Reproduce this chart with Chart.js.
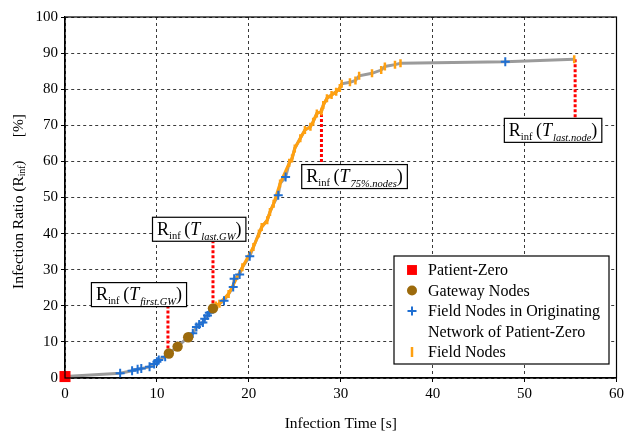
<!DOCTYPE html>
<html>
<head>
<meta charset="utf-8">
<script src="https://cdn.jsdelivr.net/npm/chart.js@4/dist/chart.umd.min.js"></script>
<style>
  html, body { margin: 0; padding: 0; background: #fff; }
  #chart { display: block; }
</style>
</head>
<body>
<canvas id="chart" width="627" height="433"></canvas>
<script>
"use strict";

// infection time [s] / infection ratio [%]
const patientZeroT = [0];
const patientZeroR = [0.4];

const gatewayT = [11.3, 12.25, 13.4, 16.1];
const gatewayR = [6.8, 8.7, 11.3, 19.3];

const originT = [6.0, 7.3, 7.9, 8.3, 9.2, 9.7, 10.0, 10.2, 10.9, 13.9, 14.3, 14.6,
  15.0, 15.2, 15.5, 15.7, 17.3, 18.3, 18.4, 19.0, 20.1, 23.2, 24.0, 47.9];
const originR = [1.3, 2.0, 2.4, 2.6, 3.1, 3.9, 4.5, 5.0, 5.9, 12.4, 14.1, 14.8,
  15.4, 16.4, 17.3, 18.1, 21.4, 25.2, 27.5, 28.7, 33.7, 50.6, 55.7, 87.6];

const fieldT = [16.4, 16.8, 17.8, 19.3, 20.5, 21.1, 21.4, 22.0, 22.3, 22.7, 23.4, 24.4,
  24.7, 25.0, 25.6, 26.1, 26.7, 27.0, 27.4, 27.9, 28.1, 28.5, 29.0, 29.5, 29.9,
  30.1, 31.0, 31.6, 32.0, 33.4, 34.4, 34.8, 35.9, 36.5, 55.4];
const fieldR = [20.1, 20.6, 23.3, 30.7, 36.3, 40.0, 41.8, 43.7, 46.0, 48.3, 53.9, 59.6,
  60.8, 63.6, 66.4, 68.7, 69.6, 71.0, 73.3, 73.8, 75.6, 77.5, 78.4, 79.3, 80.3,
  81.5, 81.9, 82.4, 83.7, 84.4, 85.3, 86.3, 86.8, 87.2, 88.3];

// marked instants: time, ratio on the curve, end of the dotted line
const markSub = ["first.GW", "last.GW", "75%.nodes", "last.node"];
const markT = [11.2, 16.1, 27.9, 55.5];
const markFrom = [6.8, 19.3, 74.5, 88.3];
const markTo = [19.8, 37.9, 58.5, 71.9];

const xTicks = [0, 10, 20, 30, 40, 50, 60];
const yTicks = [0, 10, 20, 30, 40, 50, 60, 70, 80, 90, 100];

// label box centres, in axis units
const BOX_AT = [[8.05, 23.1], [14.6, 41.2], [31.5, 55.8], [53.1, 68.6]];

const SERIF = '"Liberation Serif", "DejaVu Serif", serif';
const C = {
  red: "#ff0000",
  gateway: "#9c6a0c",
  blue: "#1f6fd2",
  orange: "#ffa010",
  curve: "#9b9b9b",
  grid: "#3a3a3a",
};

const pts = (xs, ys) => xs.map((x, i) => ({ x, y: ys[i] }));

const curve = pts(patientZeroT, patientZeroR)
  .concat(pts(gatewayT, gatewayR), pts(originT, originR), pts(fieldT, fieldR))
  .sort((a, b) => a.x - b.x);

const legendItems = [
  { lines: ["Patient-Zero"], ds: 0 },
  { lines: ["Gateway Nodes"], ds: 1 },
  { lines: ["Field Nodes in Originating", "Network of Patient-Zero"], ds: 2 },
  { lines: ["Field Nodes"], ds: 3 },
];

function drawRinf(ctx, cx, cy, sub) {
  const parts = [
    { t: "R", f: `18px ${SERIF}`, dy: 0 },
    { t: "inf", f: `10.5px ${SERIF}`, dy: 4 },
    { t: "\u2009(", f: `18px ${SERIF}`, dy: 0 },
    { t: "T", f: `italic 18px ${SERIF}`, dy: 0 },
    { t: sub, f: `italic 10.5px ${SERIF}`, dy: 5 },
    { t: ")", f: `18px ${SERIF}`, dy: 0 },
  ];
  let w = 0;
  parts.forEach((p) => {
    ctx.font = p.f;
    p.w = ctx.measureText(p.t).width + (p.t === "T" ? 1 : 0);
    w += p.w;
  });
  const bw = w + 9, bh = 24;
  ctx.fillStyle = "#fff";
  ctx.fillRect(cx - bw / 2, cy - bh / 2, bw, bh);
  ctx.strokeStyle = "#000";
  ctx.lineWidth = 1.2;
  ctx.setLineDash([]);
  ctx.strokeRect(cx - bw / 2, cy - bh / 2, bw, bh);
  let x = cx - w / 2;
  ctx.fillStyle = "#000";
  ctx.textAlign = "left";
  ctx.textBaseline = "alphabetic";
  parts.forEach((p) => {
    ctx.font = p.f;
    ctx.fillText(p.t, x, cy + 5.5 + p.dy);
    x += p.w;
  });
}

const decorations = {
  id: "decorations",
  afterDatasetsDraw(chart) {
    const { ctx, scales } = chart;
    ctx.save();
    BOX_AT.forEach((b, i) => {
      drawRinf(ctx, scales.x.getPixelForValue(b[0]), scales.y.getPixelForValue(b[1]), markSub[i]);
    });
    ctx.restore();
  },
  afterDraw(chart) {
    const { ctx, chartArea: a } = chart;
    ctx.save();
    // frame
    ctx.strokeStyle = "#000";
    ctx.lineWidth = 1.2;
    ctx.setLineDash([]);
    ctx.strokeRect(a.left, a.top, a.right - a.left, a.bottom - a.top);

    // y axis title with subscript
    ctx.translate(19, (a.top + a.bottom) / 2 + 4);
    ctx.rotate(-Math.PI / 2);
    const segs = [
      { t: "Infection Ratio (R", f: `15.5px ${SERIF}`, dy: 0 },
      { t: "inf", f: `9.5px ${SERIF}`, dy: 3 },
      { t: ")\u2003\u2002[%]", f: `15.5px ${SERIF}`, dy: 0 },
    ];
    let w = 0;
    segs.forEach((s) => { ctx.font = s.f; s.w = ctx.measureText(s.t).width; w += s.w; });
    let x = -w / 2;
    ctx.fillStyle = "#000";
    ctx.textBaseline = "middle";
    segs.forEach((s) => { ctx.font = s.f; ctx.fillText(s.t, x, s.dy); x += s.w; });
    ctx.restore();

    // legend box inside the plot
    ctx.save();
    const lx = 394, ly = 256, lw = 215, lh = 108;
    ctx.fillStyle = "#fff";
    ctx.fillRect(lx, ly, lw, lh);
    ctx.strokeStyle = "#000";
    ctx.lineWidth = 1.2;
    ctx.strokeRect(lx, ly, lw, lh);
    let y = ly + 14;
    legendItems.forEach((item) => {
      const ds = chart.data.datasets[item.ds];
      ctx.fillStyle = ds.backgroundColor;
      ctx.strokeStyle = ds.borderColor;
      ctx.lineWidth = ds.pointBorderWidth;
      Chart.helpers.drawPoint(ctx, {
        pointStyle: ds.pointStyle,
        rotation: ds.pointRotation || 0,
        radius: ds.legendRadius,
        borderWidth: ds.pointBorderWidth,
      }, lx + 18, y);
      ctx.fillStyle = "#000";
      ctx.font = `16px ${SERIF}`;
      ctx.textBaseline = "middle";
      item.lines.forEach((line, k) => {
        ctx.fillText(line, lx + 34, y + 1 + k * 20.5);
      });
      y += 20.5 * item.lines.length;
    });
    ctx.restore();
  },
};

const markDatasets = markT.map((t, i) => ({
  label: "mark " + markSub[i],
  data: [{ x: t, y: markFrom[i] }, { x: t, y: markTo[i] }],
  showLine: true,
  borderColor: C.red,
  borderWidth: 3,
  borderDash: [3, 2],
  pointRadius: 0,
}));

new Chart(document.getElementById("chart"), {
  type: "scatter",
  data: {
    datasets: [
      {
        label: "Patient-Zero",
        data: pts(patientZeroT, patientZeroR),
        pointStyle: "rect",
        pointRadius: 7.8,
        legendRadius: 7,
        backgroundColor: C.red,
        borderColor: C.red,
        pointBorderWidth: 0,
        clip: false,
      },
      {
        label: "Gateway Nodes",
        data: pts(gatewayT, gatewayR),
        pointStyle: "circle",
        pointRadius: 5.2,
        legendRadius: 5,
        backgroundColor: C.gateway,
        borderColor: C.gateway,
        pointBorderWidth: 0,
      },
      {
        label: "Field Nodes in Originating Network of Patient-Zero",
        data: pts(originT, originR),
        pointStyle: "cross",
        pointRadius: 4.5,
        legendRadius: 4.5,
        backgroundColor: C.blue,
        borderColor: C.blue,
        pointBorderWidth: 2,
      },
      {
        label: "Field Nodes",
        data: pts(fieldT, fieldR),
        showLine: true,
        borderWidth: 3,
        segment: {
          borderColor: (c) => (c.p0.parsed.x < 30.05 ? C.orange : "transparent"),
        },
        pointStyle: "line",
        pointRotation: 90,
        pointRadius: 4,
        legendRadius: 5,
        backgroundColor: C.orange,
        borderColor: C.orange,
        pointBorderWidth: 2.5,
      },
      ...markDatasets,
      {
        label: "curve",
        data: curve,
        showLine: true,
        borderColor: C.curve,
        borderWidth: 3,
        pointRadius: 0,
      },
    ],
  },
  options: {
    responsive: false,
    animation: false,
    events: [],
    layout: { padding: { left: 10, right: 9, top: 17, bottom: 0 } },
    plugins: { legend: { display: false }, tooltip: { enabled: false } },
    scales: {
      x: {
        type: "linear",
        min: 0,
        max: 60,
        afterBuildTicks: (s) => { s.ticks = xTicks.map((v) => ({ value: v })); },
        afterFit: (s) => { s.height = 55; },
        ticks: { color: "#000", font: { family: SERIF, size: 15 }, padding: 3 },
        grid: { color: C.grid, lineWidth: 1, tickLength: 4, tickColor: "#000" },
        border: { color: "#000", width: 1.2, dash: [3, 3] },
        title: {
          display: true,
          text: "Infection Time [s]",
          color: "#000",
          font: { family: SERIF, size: 15.5 },
          padding: { top: 0, bottom: 0 },
        },
      },
      y: {
        type: "linear",
        min: 0,
        max: 100,
        afterBuildTicks: (s) => { s.ticks = yTicks.map((v) => ({ value: v })); },
        afterFit: (s) => { s.width = 55; },
        ticks: { color: "#000", font: { family: SERIF, size: 15 }, padding: 3 },
        grid: { color: C.grid, lineWidth: 1, tickLength: 4, tickColor: "#000" },
        border: { color: "#000", width: 1.2, dash: [3, 3] },
      },
    },
  },
  plugins: [decorations],
});
</script>
</body>
</html>
